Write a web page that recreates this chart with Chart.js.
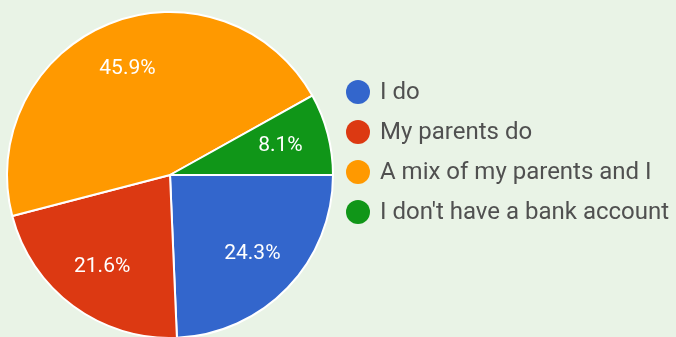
<!DOCTYPE html>
<html>
<head>
<meta charset="utf-8">
<script src="https://cdn.jsdelivr.net/npm/chart.js@4"></script>
<style>
  html, body { margin: 0; padding: 0; background: #e9f3e6; }
  #wrap { width: 676px; height: 337px; position: relative; }
</style>
</head>
<body>
<div id="wrap"><canvas id="pieChart"></canvas></div>
<script>
var labels = ["I do", "My parents do", "A mix of my parents and I", "I don't have a bank account"];
var shares = [24.3, 21.6, 45.9, 8.1];
var colors = ["#3366cc", "#dc3912", "#ff9900", "#109618"];

// percentage text inside each slice
var sliceLabels = {
    id: 'sliceLabels',
    afterDatasetsDraw: function(chart) {
        var ctx = chart.ctx;
        var meta = chart.getDatasetMeta(0);
        ctx.save();
        ctx.font = '21px Roboto, "Liberation Sans", sans-serif';
        ctx.fillStyle = '#ffffff';
        ctx.textAlign = 'center';
        ctx.textBaseline = 'middle';
        meta.data.forEach(function(arc, i) {
            var p = arc.getProps(['x', 'y', 'startAngle', 'endAngle', 'outerRadius'], true);
            var mid = (p.startAngle + p.endAngle) / 2;
            var r = p.outerRadius * 0.7;
            ctx.fillText(shares[i].toFixed(1) + '%', p.x + Math.cos(mid) * r, p.y + Math.sin(mid) * r);
        });
        ctx.restore();
    }
};

// legend column on the right
var sideLegend = {
    id: 'sideLegend',
    afterDraw: function(chart) {
        var ctx = chart.ctx;
        ctx.save();
        ctx.font = '24px Roboto, "Liberation Sans", sans-serif';
        ctx.textBaseline = 'middle';
        labels.forEach(function(label, i) {
            var y = 92 + i * 40;
            ctx.fillStyle = colors[i];
            ctx.beginPath();
            ctx.arc(358, y, 12, 0, Math.PI * 2);
            ctx.fill();
            ctx.fillStyle = '#505050';
            ctx.fillText(label, 380, y + 1);
        });
        ctx.restore();
    }
};

var ctxP = document.getElementById("pieChart").getContext('2d');
var myPieChart = new Chart(ctxP, {
    type: 'pie',
    data: {
        labels: labels,
        datasets: [{
            data: shares,
            backgroundColor: colors,
            borderColor: '#ffffff',
            borderWidth: 2,
            radius: 163
        }]
    },
    options: {
        responsive: true,
        maintainAspectRatio: false,
        animation: false,
        rotation: 90,
        layout: { padding: { left: 0, right: 336, top: 13, bottom: 0 } },
        plugins: {
            legend: { display: false },
            tooltip: { enabled: false }
        }
    },
    plugins: [sliceLabels, sideLegend]
});
</script>
</body>
</html>
